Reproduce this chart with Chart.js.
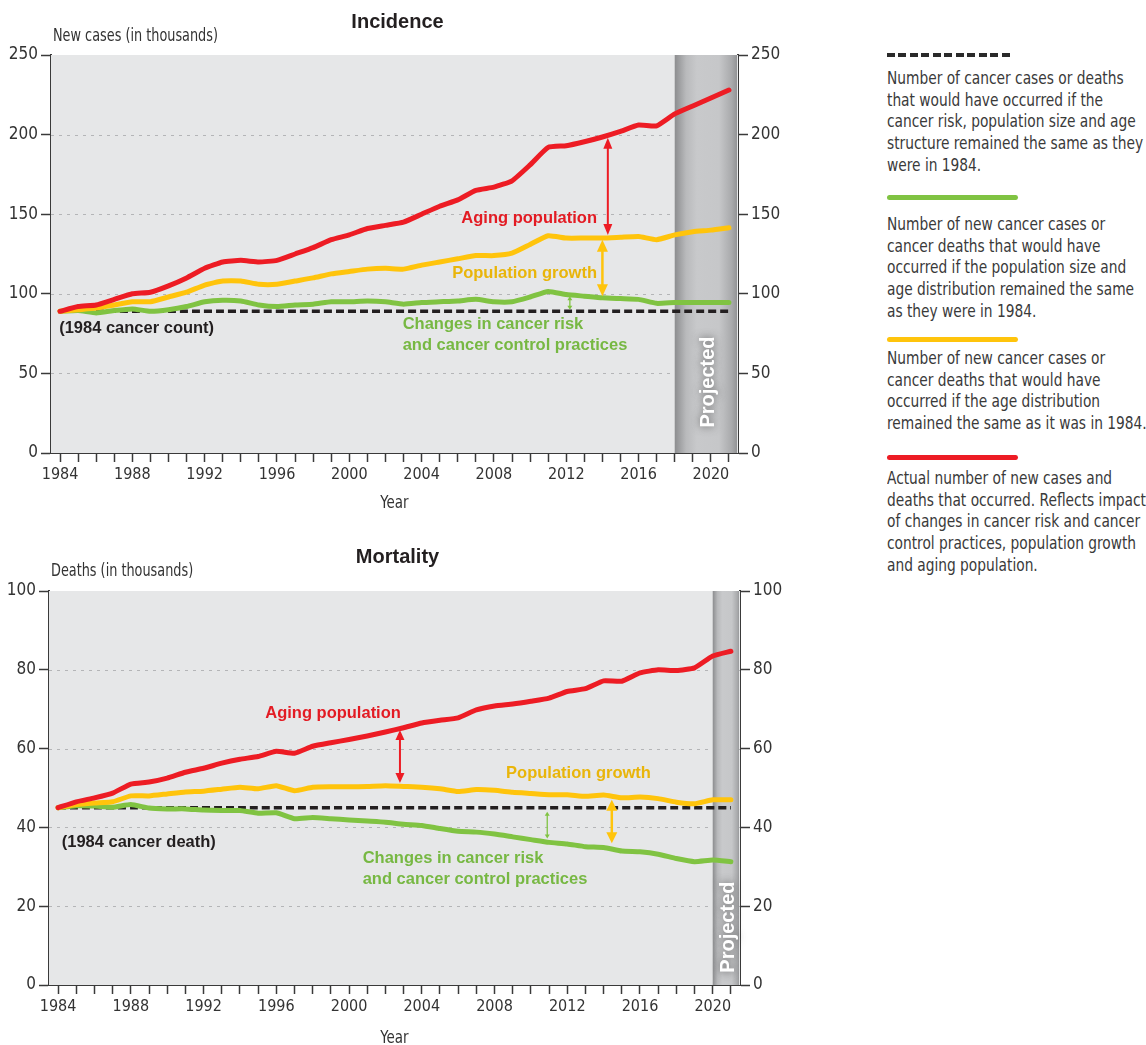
<!DOCTYPE html>
<html>
<head>
<meta charset="utf-8">
<script src="https://cdn.jsdelivr.net/npm/chart.js@4.4.1/dist/chart.umd.min.js"></script>
<style>
  body { margin: 0; background: #fff; width: 1146px; height: 1045px; position: relative; overflow: hidden;
         font-family: "Liberation Sans Narrow", "DejaVu Sans Condensed", "Liberation Sans", sans-serif; color: #333; }
  canvas { position: absolute; left: 0; }
  #inc { top: 0; }
  #mort { top: 535px; }
  .key { position: absolute; left: 887px; width: 131px; height: 5px; border-radius: 3px; }
  .txt { position: absolute; left: 887px; font-size: 17px; line-height: 21.7px; color: #3a3a3a; white-space: nowrap;
         transform: scaleX(0.9); transform-origin: 0 0; }
</style>
</head>
<body>
<canvas id="inc" width="800" height="530"></canvas>
<canvas id="mort" width="800" height="510"></canvas>

<div class="key" style="top:53px; height:4px; width:126px; border-radius:0;
  background: repeating-linear-gradient(to right, #2a2a2a 0 8px, transparent 8px 11.5px);"></div>
<div class="txt" style="top:68px">Number of cancer cases or deaths<br>that would have occurred if the<br>cancer risk, population size and age<br>structure remained the same as they<br>were in 1984.</div>
<div class="key" style="top:195px; background:#80c342"></div>
<div class="txt" style="top:214px">Number of new cancer cases or<br>cancer deaths that would have<br>occurred if the population size and<br>age distribution remained the same<br>as they were in 1984.</div>
<div class="key" style="top:337px; background:#ffc40c"></div>
<div class="txt" style="top:348px">Number of new cancer cases or<br>cancer deaths that would have<br>occurred if the age distribution<br>remained the same as it was in 1984.</div>
<div class="key" style="top:455px; background:#ed1c24"></div>
<div class="txt" style="top:468px">Actual number of new cases and<br>deaths that occurred. Reflects impact<br>of changes in cancer risk and cancer<br>control practices, population growth<br>and aging population.</div>

<script>
// --- data (thousands) ---
const years = ['1984', '1985', '1986', '1987', '1988', '1989', '1990', '1991', '1992', '1993',
  '1994', '1995', '1996', '1997', '1998', '1999', '2000', '2001', '2002', '2003',
  '2004', '2005', '2006', '2007', '2008', '2009', '2010', '2011', '2012', '2013',
  '2014', '2015', '2016', '2017', '2018', '2019', '2020', '2021'];
const yearLabels = ['1984', '1988', '1992', '1996', '2000', '2004', '2008', '2012', '2016', '2020'];

const incActual = [89, 92, 93, 96.5, 100, 101, 105, 110, 116, 120,
  121, 120, 121, 125, 129, 134, 137, 141, 143, 145,
  150, 155, 159, 165, 167, 171, 181, 192, 193, 195.5,
  198.5, 202, 206, 205.5, 213, 218, 223, 228];
const incPopulation = [89, 90, 91, 93, 95, 95, 98, 101, 105.5, 108,
  108, 106, 106, 108, 110, 112.5, 114, 115.5, 116, 115.5,
  118, 120, 122, 124, 124, 125.5, 131, 136.5, 135, 135,
  135, 135.5, 136, 134, 137, 139, 140, 141.5];
const incRisk = [89, 89.5, 88, 89.5, 90.5, 89, 90, 92, 95, 96,
  95.5, 93, 92, 93, 93.5, 95, 95, 95.5, 95, 93.5,
  94.5, 95, 95.5, 96.5, 95, 95, 98, 101.5, 99.5, 98.5,
  97.5, 97, 96.5, 94, 94.5, 94.5, 94.5, 94.5];
const incBaseline = 89;
const incTicks = [0, 50, 100, 150, 200, 250];

const mortActual = [45, 46.5, 47.5, 48.7, 51, 51.5, 52.5, 54, 55, 56.3,
  57.3, 58, 59.3, 58.8, 60.6, 61.5, 62.3, 63.2, 64.2, 65.3,
  66.5, 67.2, 67.8, 69.8, 70.8, 71.3, 72, 72.8, 74.5, 75.2,
  77.2, 77.1, 79.2, 80, 79.8, 80.5, 83.5, 84.7];
const mortPopulation = [45, 45.8, 46.2, 46.5, 48, 48, 48.5, 49, 49.2, 49.7,
  50.2, 49.8, 50.6, 49.3, 50.2, 50.3, 50.3, 50.4, 50.6, 50.4,
  50.2, 49.8, 49.1, 49.6, 49.4, 48.9, 48.6, 48.3, 48.3, 47.9,
  48.2, 47.5, 47.7, 47.3, 46.4, 46, 47, 47];
const mortRisk = [45, 45.5, 45.4, 45.1, 45.8, 44.9, 44.7, 44.7, 44.4, 44.3,
  44.3, 43.6, 43.7, 42.2, 42.5, 42.2, 41.9, 41.6, 41.3, 40.8,
  40.5, 39.7, 39, 38.8, 38.3, 37.6, 36.9, 36.2, 35.8, 35.1,
  34.9, 34, 33.8, 33.2, 32.1, 31.3, 31.7, 31.3];
const mortBaseline = 45;
const mortTicks = [0, 20, 40, 60, 80, 100];

const RED = '#ed1c24', YELLOW = '#ffc40c', GREEN = '#80c342', INK = '#231f20';
const NARROW = '"Liberation Sans Narrow", "DejaVu Sans Condensed", "Liberation Sans", sans-serif';
const BOLD = '"Liberation Sans", Arial, sans-serif';

// year index helper (fractional allowed on category scale)
const yi = y => y - 1984;

const incNotes = {
  title: 'Incidence', yTitle: 'New cases (in thousands)', projFrom: '2018', projAt: 44.6,
  labels: [
    { t: 'Aging population', x: 2013.7, y: 147.6, c: '#e31b23', a: 'right' },
    { t: 'Population growth', x: 2013.7, y: 113, c: '#e9b50a', a: 'right' },
    { t: 'Changes in cancer risk', x: 2002.95, y: 81, c: '#77b843', a: 'left' },
    { t: 'and cancer control practices', x: 2002.95, y: 67.8, c: '#77b843', a: 'left' },
    { t: '(1984 cancer count)', x: 1983.95, y: 78, c: INK, a: 'left' }
  ],
  arrows: [
    { x: 2014.3, y1: 198, y2: 137, c: RED, w: 2, hl: 11, hw: 4.5 },
    { x: 2014.0, y1: 134, y2: 98.5, c: YELLOW, w: 2.5, hl: 12, hw: 5.5 },
    { x: 2012.2, y1: 98.5, y2: 90, c: GREEN, w: 1.3, hl: 4, hw: 2.5 }
  ]
};
const mortNotes = {
  title: 'Mortality', yTitle: 'Deaths (in thousands)', projFrom: '2020', projAt: 14.7,
  labels: [
    { t: 'Aging population', x: 2002.85, y: 69, c: '#e31b23', a: 'right' },
    { t: 'Population growth', x: 2016.6, y: 53.8, c: '#e9b50a', a: 'right' },
    { t: 'Changes in cancer risk', x: 2000.75, y: 32.2, c: '#77b843', a: 'left' },
    { t: 'and cancer control practices', x: 2000.75, y: 26.9, c: '#77b843', a: 'left' },
    { t: '(1984 cancer death)', x: 1984.2, y: 36.3, c: INK, a: 'left' }
  ],
  arrows: [
    { x: 2002.8, y1: 64.7, y2: 51.3, c: RED, w: 2, hl: 10, hw: 4.5 },
    { x: 2010.9, y1: 44, y2: 37.2, c: GREEN, w: 1.3, hl: 4, hw: 2.5 },
    { x: 2014.45, y1: 47, y2: 36, c: YELLOW, w: 2.5, hl: 11, hw: 5.5 }
  ]
};

function arrow(ctx, x, ya, yb, a) {
  ctx.save();
  ctx.strokeStyle = a.c; ctx.fillStyle = a.c; ctx.lineWidth = a.w;
  ctx.beginPath(); ctx.moveTo(x, ya + a.hl - 1); ctx.lineTo(x, yb - a.hl + 1); ctx.stroke();
  ctx.beginPath(); ctx.moveTo(x, ya); ctx.lineTo(x - a.hw, ya + a.hl); ctx.lineTo(x + a.hw, ya + a.hl); ctx.closePath(); ctx.fill();
  ctx.beginPath(); ctx.moveTo(x, yb); ctx.lineTo(x - a.hw, yb - a.hl); ctx.lineTo(x + a.hw, yb - a.hl); ctx.closePath(); ctx.fill();
  ctx.restore();
}

// narrow text: squeeze horizontally since no condensed face is at hand
function squeezed(ctx, text, x, y, sx, align) {
  ctx.save();
  ctx.translate(x, y);
  ctx.scale(sx, 1);
  ctx.textAlign = align;
  ctx.fillText(text, 0, 0);
  ctx.restore();
}

const decor = {
  id: 'decor',
  beforeDatasetsDraw(chart, args, opts) {
    const { ctx, chartArea: ca, scales } = chart;
    const n = opts.notes;
    ctx.save();
    ctx.fillStyle = '#e6e7e8';
    ctx.fillRect(ca.left, ca.top, ca.width, ca.height);
    // dotted grid
    ctx.strokeStyle = '#b4b5b7'; ctx.lineWidth = 1; ctx.setLineDash([3, 5]);
    opts.ticks.forEach(v => {
      if (v === opts.ticks[0] || v === opts.ticks[opts.ticks.length - 1]) return;
      const py = Math.round(scales.y.getPixelForValue(v)) + 0.5;
      ctx.beginPath(); ctx.moveTo(ca.left, py); ctx.lineTo(ca.right, py); ctx.stroke();
    });
    ctx.setLineDash([]);
    // projected band
    const px = scales.x.getPixelForValue(years.indexOf(n.projFrom));
    const w = ca.right - 1 - px;
    const g = ctx.createLinearGradient(px, 0, ca.right, 0);
    g.addColorStop(0, '#8c8d8f'); g.addColorStop(0.18, '#b9babc'); g.addColorStop(0.35, '#c8c9cb');
    g.addColorStop(0.7, '#c6c7c9'); g.addColorStop(0.9, '#a9aaac'); g.addColorStop(1, '#8e8f91');
    ctx.fillStyle = g;
    ctx.fillRect(px, ca.top, w, ca.height);
    ctx.restore();
  },
  afterDatasetsDraw(chart, args, opts) {
    const { ctx, chartArea: ca, scales } = chart;
    const n = opts.notes;
    ctx.save();
    n.arrows.forEach(a => {
      arrow(ctx, scales.x.getPixelForValue(yi(a.x)), scales.y.getPixelForValue(a.y1), scales.y.getPixelForValue(a.y2), a);
    });
    ctx.font = 'bold 16.5px ' + BOLD;
    ctx.textBaseline = 'middle';
    n.labels.forEach(l => {
      ctx.fillStyle = l.c; ctx.textAlign = l.a;
      ctx.fillText(l.t, scales.x.getPixelForValue(yi(l.x)), scales.y.getPixelForValue(l.y));
    });
    // "Projected" in the band
    const px = scales.x.getPixelForValue(years.indexOf(n.projFrom));
    ctx.translate((px + ca.right) / 2 + 1, scales.y.getPixelForValue(n.projAt));
    ctx.rotate(-Math.PI / 2);
    ctx.font = 'bold 20px ' + BOLD;
    ctx.textAlign = 'center';
    ctx.shadowColor = 'rgba(70,70,70,0.8)'; ctx.shadowBlur = 9;
    ctx.fillStyle = '#ffffff';
    ctx.fillText('Projected', 0, 1);
    ctx.restore();
  },
  afterDraw(chart, args, opts) {
    const { ctx, chartArea: ca } = chart;
    const n = opts.notes;
    ctx.save();
    ctx.textBaseline = 'middle';
    ctx.fillStyle = INK; ctx.textAlign = 'center';
    ctx.font = 'bold 20px ' + BOLD;
    ctx.fillText(n.title, (ca.left + ca.right) / 2 + 3, 22);
    ctx.fillStyle = '#333'; ctx.font = '17px ' + NARROW;
    squeezed(ctx, 'Year', (ca.left + ca.right) / 2, 504, 0.88, 'center');
    squeezed(ctx, n.yTitle, ca.left + 2, 37, 0.84, 'left');
    ctx.restore();
  }
};

function axisY(ticks, pos, width) {
  return {
    position: pos, min: ticks[0], max: ticks[ticks.length - 1],
    afterBuildTicks(a) { a.ticks = ticks.map(v => ({ value: v })); },
    afterFit(a) { a.width = width; },
    grid: { drawOnChartArea: false, drawTicks: true, tickLength: 10, tickColor: '#3a3a3a', tickWidth: 1.5, tickBorderDash: [] },
    border: { color: '#3a3a3a', width: 2 },
    ticks: { padding: 3, color: '#333', font: { family: NARROW, size: 17 } }
  };
}

function makeChart(id, series, baseline, ticks, notes, lay) {
  const base = [{ x: years[0], y: baseline }, { x: years[years.length - 1], y: baseline }];
  new Chart(document.getElementById(id), {
    type: 'line',
    data: {
      labels: years,
      datasets: [
        { data: series[0], borderColor: RED, order: 1 },
        { data: series[1], borderColor: YELLOW, order: 2 },
        { data: series[2], borderColor: GREEN, order: 3 },
        { data: base, borderColor: INK, borderWidth: 3.5, borderDash: [8, 4], borderCapStyle: 'butt', order: 4 }
      ]
    },
    options: {
      responsive: false, animation: false,
      layout: { padding: { top: lay.top, left: 0, right: 0, bottom: 0 } },
      elements: {
        line: { borderWidth: 5, tension: 0.15, borderCapStyle: 'round', borderJoinStyle: 'round', fill: false },
        point: { radius: 0 }
      },
      plugins: { legend: { display: false }, tooltip: { enabled: false }, decor: { notes: notes, ticks: ticks } },
      scales: {
        x: {
          type: 'category', offset: true,
          afterFit(a) { a.height = lay.xh; },
          grid: { drawOnChartArea: false, drawTicks: true, tickLength: 9, tickColor: '#3a3a3a', tickWidth: 1.5, tickBorderDash: [] },
          border: { color: '#3a3a3a', width: 2 },
          ticks: {
            autoSkip: false, maxRotation: 0, padding: 3, color: '#333', font: { family: NARROW, size: 16 },
            callback: (v, i) => (yearLabels.includes(years[i]) ? years[i] : '')
          }
        },
        y: axisY(ticks, 'left', lay.lw),
        y2: axisY(ticks, 'right', lay.rw)
      }
    },
    plugins: [decor]
  });
}

makeChart('inc', [incActual, incPopulation, incRisk], incBaseline, incTicks, incNotes,
  { top: 55, xh: 77, lw: 51, rw: 62 });
makeChart('mort', [mortActual, mortPopulation, mortRisk], mortBaseline, mortTicks, mortNotes,
  { top: 56, xh: 60, lw: 49, rw: 60 });
</script>
</body>
</html>
